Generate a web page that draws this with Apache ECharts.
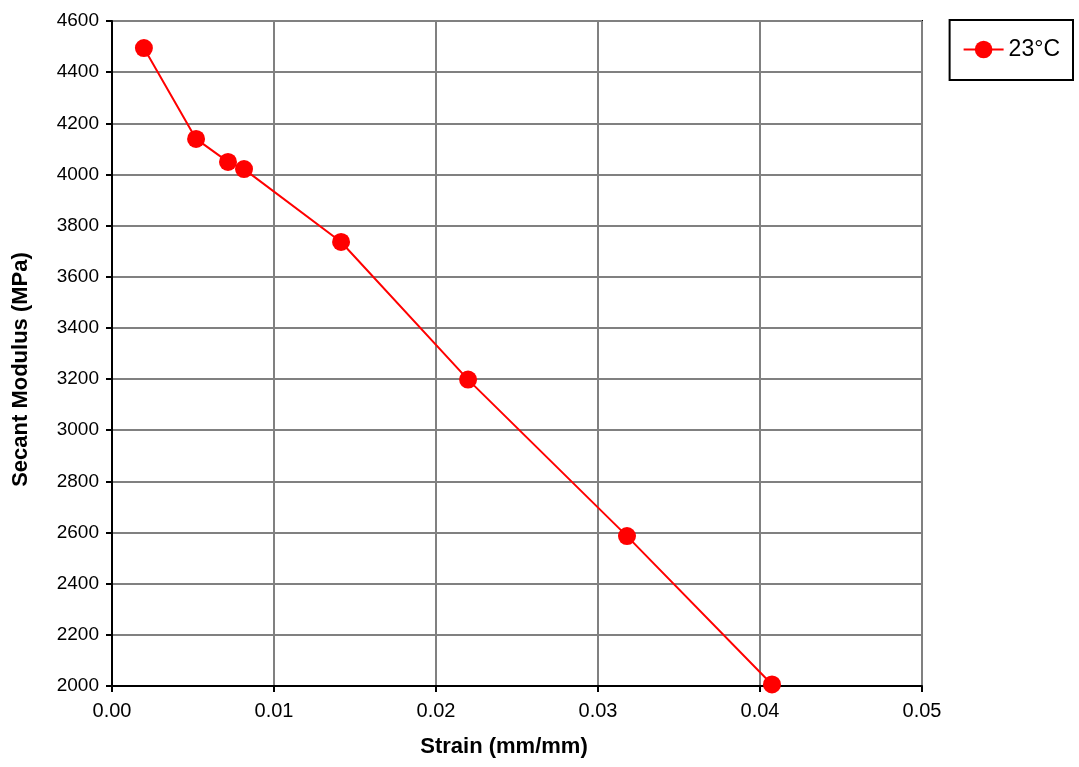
<!DOCTYPE html>
<html><head><meta charset="utf-8">
<script src="https://cdn.jsdelivr.net/npm/echarts@6/dist/echarts.min.js"></script>
<style>html,body{margin:0;padding:0;background:#fff}#c{width:1079px;height:767px}</style>
</head><body><div id="c"></div>
<script>
const seriesName = '23°C';
const strain = [0.00197, 0.00519, 0.00716, 0.00815, 0.01414, 0.02198, 0.03179, 0.04074];
const modulus = [4494, 4139, 4049, 4021, 3736, 3198, 2586, 2006];
const xTitle = 'Strain (mm/mm)';
const yTitle = 'Secant Modulus (MPa)';

const chart = echarts.init(document.getElementById('c'));
const font = '"Liberation Sans", Arial, sans-serif';
chart.setOption({
  animation: false,
  grid: {left: 112, right: 157, top: 21, bottom: 81, show: true, borderColor: '#000', borderWidth: 2},
  legend: {
    right: 6, top: 20, padding: [18, 13, 19, 13], borderColor: '#000', borderWidth: 2,
    itemWidth: 40, itemHeight: 22, itemGap: 6,
    textStyle: {fontFamily: font, fontSize: 23, color: '#000'},
    data: [seriesName]
  },
  xAxis: {
    type: 'value', min: 0, max: 0.05, interval: 0.01,
    name: xTitle, nameLocation: 'middle', nameGap: 50,
    nameTextStyle: {fontFamily: font, fontSize: 22, fontWeight: 'bold', color: '#000', padding: [0, 26, 0, 0]},
    axisLine: {onZero: false, lineStyle: {color: '#000', width: 2}},
    axisTick: {show: true, inside: false, length: 6, lineStyle: {color: '#000', width: 2}},
    axisLabel: {fontFamily: font, fontSize: 20, color: '#000', margin: 15, formatter: v => v.toFixed(2)},
    splitLine: {show: true, lineStyle: {color: '#808080', width: 2}}
  },
  yAxis: {
    type: 'value', min: 2000, max: 4600, interval: 200,
    name: yTitle, nameLocation: 'middle', nameGap: 80,
    nameTextStyle: {fontFamily: font, fontSize: 22, fontWeight: 'bold', color: '#000', padding: [0, 32, 0, 0]},
    axisLine: {onZero: false, lineStyle: {color: '#000', width: 2}},
    axisTick: {show: true, inside: false, length: 6, lineStyle: {color: '#000', width: 2}},
    axisLabel: {fontFamily: font, fontSize: 19, color: '#000', margin: 13, formatter: v => String(v)},
    splitLine: {show: true, lineStyle: {color: '#808080', width: 2}}
  },
  series: [{
    name: seriesName, type: 'line',
    data: strain.map((x, i) => [x, modulus[i]]),
    symbol: 'circle', symbolSize: 18,
    lineStyle: {color: '#ff0000', width: 2},
    itemStyle: {color: '#ff0000'},
    clip: false, z: 5
  }]
});
</script></body></html>
